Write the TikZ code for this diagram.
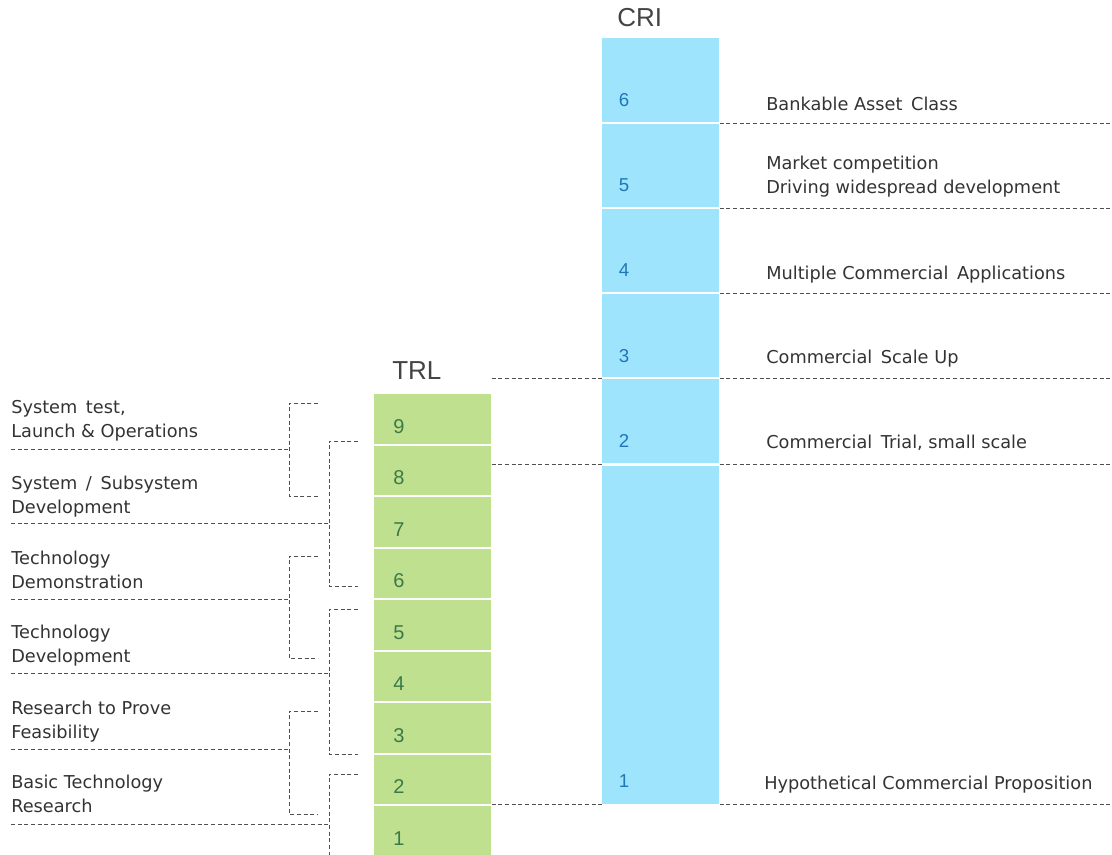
\documentclass[tikz,border=0pt]{standalone}
\usepackage{fontspec}
\setmainfont{DejaVu Sans}
\newfontfamily\arialfont{Liberation Sans}
\usetikzlibrary{calc}
\definecolor{trlfill}{HTML}{BFE08F}
\definecolor{crifill}{HTML}{9EE4FD}
\definecolor{trlnumc}{HTML}{3B7A48}
\definecolor{crinumc}{HTML}{1F76B8}
\definecolor{txt}{HTML}{333333}
\definecolor{headc}{HTML}{444444}
\definecolor{dashc}{HTML}{505050}
\begin{document}
\begin{tikzpicture}[x=0.75pt,y=-0.75pt,
  lbl/.style={font=\fontsize{13.3}{18}\selectfont, text=txt, inner sep=0pt, align=left, anchor=base west},
  trlseg/.style={fill=trlfill, minimum width=87.75pt, minimum height=37.125pt, inner sep=0pt, anchor=north west},
  criseg/.style={fill=crifill, minimum width=87.75pt, inner sep=0pt, anchor=north west},
  trlnum/.style={font=\arialfont\fontsize{15}{16}\selectfont, text=trlnumc, inner sep=0pt, anchor=base},
  crinum/.style={font=\arialfont\fontsize{14}{16}\selectfont, text=crinumc, inner sep=0pt, anchor=base},
  head/.style={font=\arialfont\fontsize{19.5}{22}\selectfont, text=headc, inner sep=0pt, anchor=base west},
  dline/.style={draw=dashc, line width=0.75pt, dash pattern=on 3pt off 2pt}
]
\useasboundingbox (0,0) rectangle (1112,854);
\coordinate (R) at (1112,0);

% TRL column
\foreach \i in {1,...,9}{
  \pgfmathsetmacro\ty{394+(9-\i)*51.5}
  \node[trlseg] (trl\i) at (374,\ty) {};
  \node[trlnum] (tn\i) at (399,{\ty+39}) {\i};
}
\node[head] (trlh) at (392,379) {TRL};

% CRI column
\foreach \i in {2,...,6}{
  \pgfmathsetmacro\ty{38+(6-\i)*85.3}
  \node[criseg, minimum height=62.475pt] (cri\i) at (602,\ty) {};
  \node[crinum] (cn\i) at (624,{\ty+68.3}) {\i};
}
\node[criseg, minimum height=253.875pt] (cri1) at (602,465.5) {};
\node[crinum] (cn1) at (624,787) {1};
\node[head] (crih) at (617,26) {CRI};

% right separators (centred in the white gaps)
\foreach \i in {2,...,6}{
  \coordinate (g\i) at ($(cri\i.south east)+(0,1.2)$);
  \draw[dline] (g\i) -- (g\i -| R);
}
\draw[dline] (cri1.south east) -- (cri1.south east -| R);
% between columns
\coordinate (m3) at ($(cri3.south west)+(0,1.2)$);
\coordinate (m2) at ($(cri2.south west)+(0,1.2)$);
\draw[dline] (m3 -| trl9.east) -- (m3);
\draw[dline] (m2 -| trl9.east) -- (m2);
\draw[dline] (trl2.south east) -- (cri1.south west);

% right labels (anchor = baseline of last line)
\node[lbl] (r6) at (766,110) {Bankable Asset\, Class};
\node[lbl] (r5) at (766,193) {Market competition\\Driving widespread development};
\node[lbl] (r4) at (766,279) {Multiple Commercial\, Applications};
\node[lbl] (r3) at (766,363) {Commercial\, Scale Up};
\node[lbl] (r2) at (766,448) {Commercial\, Trial, small scale};
\node[lbl] (r1) at (764,789) {Hypothetical Commercial Proposition};

% left labels (anchor = baseline of last line)
\node[lbl] (l1) at (11,437) {System\, test,\\Launch \& Operations};
\node[lbl] (l2) at (11,513) {System\, /\, Subsystem\\Development};
\node[lbl] (l3) at (11,588) {Technology\\Demonstration};
\node[lbl] (l4) at (11,662) {Technology\\Development};
\node[lbl] (l5) at (11,738) {Research to Prove\\Feasibility};
\node[lbl] (l6) at (11,812) {Basic Technology\\Research};

% brackets
\foreach \bx/\tx/\ya/\yb/\ym in {289/318/403/496/449, 329/358/441/586/523, 289/318/556/658/599, 329/358/609/754/673, 289/318/711/814/749}{
  \draw[dline] (\tx,\ya) -- (\bx,\ya) -- (\bx,\yb) -- (\tx,\yb);
  \draw[dline] (11,\ym) -- (\bx,\ym);
}
\draw[dline] (358,774) -- (329,774) -- (329,856);
\draw[dline] (11,824) -- (329,824);
\end{tikzpicture}
\end{document}
